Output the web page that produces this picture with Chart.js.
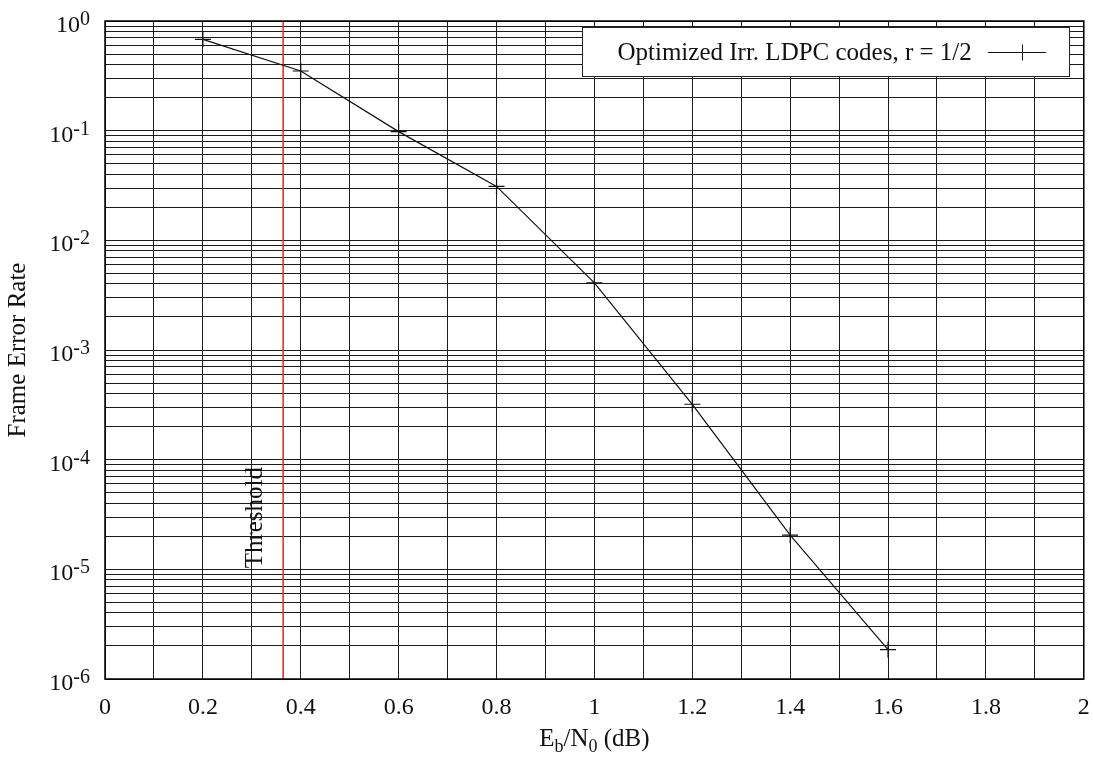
<!DOCTYPE html>
<html>
<head>
<meta charset="utf-8">
<title>Frame Error Rate</title>
<script src="https://cdn.jsdelivr.net/npm/chart.js@4.4.0/dist/chart.umd.min.js"></script>
<style>
  html, body { margin: 0; padding: 0; background: #fff; }
  canvas { display: block; }
</style>
</head>
<body>
<canvas id="fer" width="1093" height="758"></canvas>
<script>
// Eb/N0 (dB) and measured frame error rate
const ebno = [0.2, 0.4, 0.6, 0.8, 1.0, 1.2, 1.4, 1.6];
const fer = [0.68, 0.35, 0.098, 0.031, 0.0041, 3.2e-4, 2.05e-5, 1.85e-6];
const threshold = 0.364;
const seriesLabel = 'Optimized Irr. LDPC codes, r = 1/2';

const xLabels = [0, 0.2, 0.4, 0.6, 0.8, 1, 1.2, 1.4, 1.6, 1.8, 2];
const decades = [-6, -5, -4, -3, -2, -1, 0];

const serif = "'Liberation Serif', 'Times New Roman', serif";
const gridColor = '#1c1c1c';

// grid every 0.1 dB, and 1..9 x 10^n on the log axis
const xGrid = [];
for (let i = 0; i <= 20; i++) xGrid.push(i / 10);
const yGrid = [];
decades.forEach(e => {
  for (let m = 1; m <= 9; m++) {
    if (e === 0 && m > 1) break;
    yGrid.push(m * Math.pow(10, e));
  }
});

const decor = {
  id: 'decor',
  afterDraw(chart) {
    const { ctx, chartArea: a, scales: { x, y } } = chart;
    ctx.save();

    // plot frame
    ctx.strokeStyle = '#000';
    ctx.lineWidth = 1.5;
    ctx.strokeRect(a.left, a.top, a.right - a.left, a.bottom - a.top);

    // y tick labels as 10^n
    ctx.fillStyle = '#111';
    ctx.textBaseline = 'alphabetic';
    decades.forEach(e => {
      const py = y.getPixelForValue(Math.pow(10, e));
      const right = 90;
      ctx.font = '20px ' + serif;
      const sup = String(e);
      const sw = ctx.measureText(sup).width;
      ctx.textAlign = 'left';
      ctx.fillText(sup, right - sw, py + 4);
      ctx.font = '24px ' + serif;
      ctx.textAlign = 'right';
      ctx.fillText('10', right - sw, py + 11);
    });

    // y axis title
    ctx.font = '25px ' + serif;
    ctx.textAlign = 'center';
    ctx.save();
    ctx.translate(25, (a.top + a.bottom) / 2);
    ctx.rotate(-Math.PI / 2);
    ctx.fillText('Frame Error Rate', 0, 0);
    ctx.restore();

    // x axis title: E_b/N_0 (dB)
    const parts = [
      { t: 'E', f: 25, dy: 0 },
      { t: 'b', f: 18, dy: 6 },
      { t: '/N', f: 25, dy: 0 },
      { t: '0', f: 18, dy: 6 },
      { t: ' (dB)', f: 25, dy: 0 }
    ];
    let total = 0;
    parts.forEach(p => { ctx.font = p.f + 'px ' + serif; p.w = ctx.measureText(p.t).width; total += p.w; });
    let px = (a.left + a.right) / 2 - total / 2;
    ctx.textAlign = 'left';
    parts.forEach(p => {
      ctx.font = p.f + 'px ' + serif;
      ctx.fillText(p.t, px, 746 + p.dy);
      px += p.w;
    });

    // threshold label next to the red line
    ctx.font = '25px ' + serif;
    ctx.textAlign = 'center';
    ctx.save();
    ctx.translate(x.getPixelForValue(threshold) - 21, y.getPixelForValue(1e-4) + 58);
    ctx.rotate(-Math.PI / 2);
    ctx.fillText('Threshold', 0, 0);
    ctx.restore();

    // legend box, sample on the right of the text
    const boxRight = a.right - 14;
    const boxTop = a.top + 6;
    const boxH = 49;
    const sampleEnd = boxRight - 24;
    const sampleStart = sampleEnd - 58;
    const textEnd = sampleStart - 16;
    ctx.font = '25px ' + serif;
    const tw = ctx.measureText(seriesLabel).width;
    const boxLeft = textEnd - tw - 35;
    ctx.fillStyle = '#fff';
    ctx.fillRect(boxLeft, boxTop, boxRight - boxLeft, boxH);
    ctx.strokeStyle = '#222';
    ctx.lineWidth = 1;
    ctx.strokeRect(Math.round(boxLeft) + 0.5, boxTop + 0.5, Math.round(boxRight - boxLeft), boxH);
    ctx.fillStyle = '#111';
    ctx.textAlign = 'right';
    ctx.fillText(seriesLabel, textEnd, boxTop + 33);
    const ly = boxTop + 25.5;
    ctx.strokeStyle = '#111';
    ctx.beginPath();
    ctx.moveTo(sampleStart, ly);
    ctx.lineTo(sampleEnd, ly);
    const cx = Math.round((sampleStart + sampleEnd) / 2) + 5.5;
    ctx.moveTo(cx, ly - 8);
    ctx.lineTo(cx, ly + 8);
    ctx.stroke();

    ctx.restore();
  }
};

new Chart(document.getElementById('fer'), {
  type: 'line',
  data: {
    datasets: [
      {
        label: seriesLabel,
        data: ebno.map((v, i) => ({ x: v, y: fer[i] })),
        borderColor: '#111',
        borderWidth: 1.2,
        pointStyle: 'cross',
        pointRadius: 8,
        pointBorderWidth: 1.2,
        pointBorderColor: '#111',
        tension: 0
      },
      {
        label: 'Threshold',
        data: [{ x: threshold, y: 1e-6 }, { x: threshold, y: 1 }],
        borderColor: '#e8302f',
        borderWidth: 1.6,
        pointRadius: 0
      }
    ]
  },
  options: {
    responsive: false,
    devicePixelRatio: 1,
    animation: false,
    layout: { padding: { top: 21, right: 8, left: 0, bottom: 0 } },
    plugins: { legend: { display: false }, tooltip: { enabled: false } },
    scales: {
      x: {
        type: 'linear',
        min: 0,
        max: 2,
        afterBuildTicks: s => { s.ticks = xGrid.map(v => ({ value: v })); },
        afterFit: s => { s.height = 79; s.paddingLeft = 0; s.paddingRight = 0; },
        grid: { color: gridColor, lineWidth: 1, drawTicks: false },
        border: { display: false },
        ticks: {
          autoSkip: false,
          maxRotation: 0,
          padding: 14,
          color: '#111',
          font: { family: serif, size: 24 },
          callback: v => {
            const r = Math.round(v * 10) / 10;
            return xLabels.includes(r) ? String(r) : '';
          }
        }
      },
      y: {
        type: 'logarithmic',
        min: 1e-6,
        max: 1,
        afterBuildTicks: s => { s.ticks = yGrid.map(v => ({ value: v })); },
        afterFit: s => { s.width = 105; s.paddingTop = 0; s.paddingBottom = 0; },
        grid: { color: gridColor, lineWidth: 1, drawTicks: false },
        border: { display: false },
        ticks: { display: false }
      }
    }
  },
  plugins: [decor]
});
</script>
</body>
</html>
